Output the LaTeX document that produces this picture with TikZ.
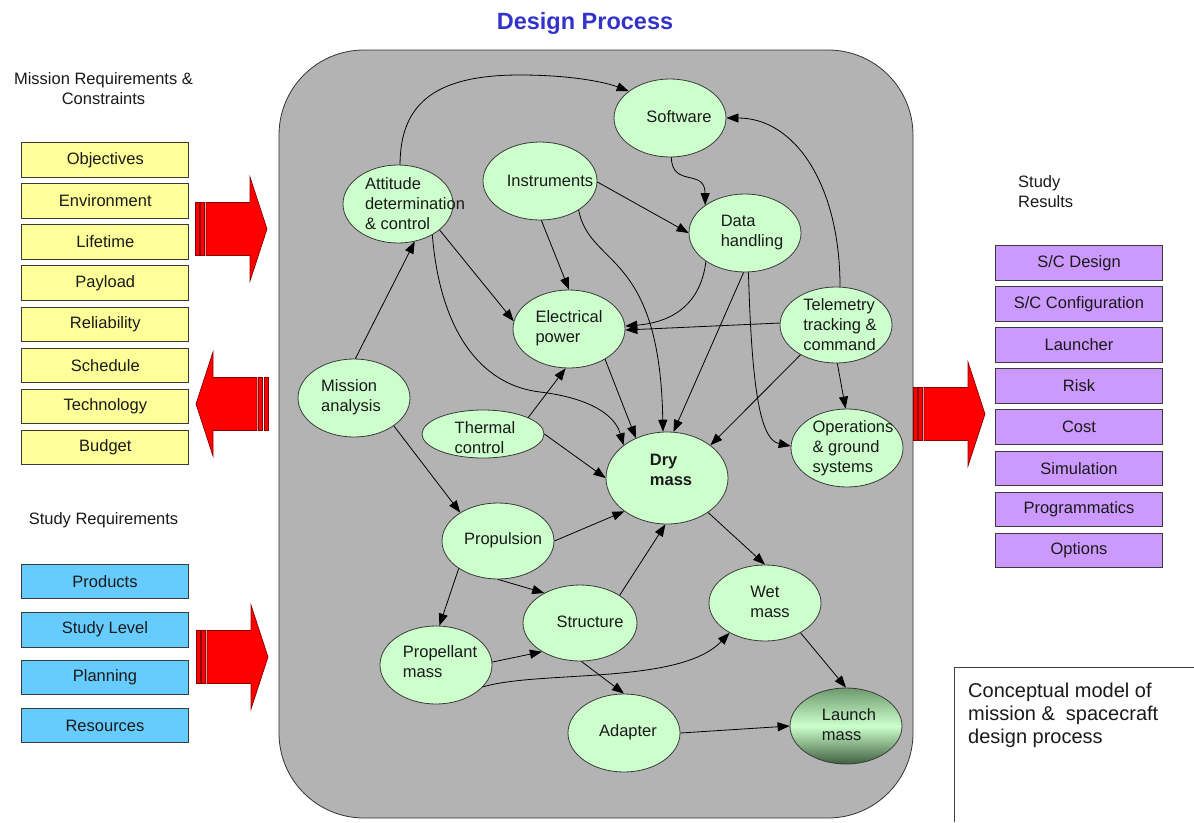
\documentclass[tikz,border=0pt]{standalone}
\usepackage{fontspec}
\setmainfont{Liberation Sans}
\usetikzlibrary{arrows.meta,shapes.geometric}
\definecolor{panelgray}{HTML}{B3B3B3}
\definecolor{nodegreen}{HTML}{CCFFCC}
\definecolor{boxyellow}{HTML}{FFFF99}
\definecolor{boxblue}{HTML}{66CCFF}
\definecolor{boxpurple}{HTML}{CC99FF}
\definecolor{titleblue}{HTML}{3333CC}
\definecolor{arrowred}{HTML}{FF0000}
\definecolor{arrowedge}{HTML}{8B0000}
\definecolor{edgegray}{HTML}{3A3A3A}
\definecolor{lmtop}{HTML}{6E9A6E}
\definecolor{lmbot}{HTML}{3F5F3F}
\definecolor{txt}{HTML}{1A1A1A}
\newcommand\stripedarrow[3]{%
  \begin{scope}[shift={(#1,#2)},xscale=#3]
    \filldraw[redarrow] (0,-26.5) rectangle (4,26.5);
    \filldraw[redarrow] (5.5,-26.5) rectangle (9.5,26.5);
    \filldraw[redarrow] (11,-26.5) -- (55,-26.5) -- (55,-52) -- (72,0) -- (55,52) -- (55,26.5) -- (11,26.5) -- cycle;
  \end{scope}}
\begin{document}
\begin{tikzpicture}[x=1pt,y=-1pt,
  ell/.style={ellipse,draw=edgegray,line width=0.8pt,fill=nodegreen,inner sep=0pt},
  lbl/.style={font=\fontsize{16.5}{20}\selectfont,align=left,text=txt,inner sep=0pt},
  head/.style={font=\fontsize{16.5}{20}\selectfont,text=txt,inner sep=0pt},
  reqbox/.style={rectangle,draw=edgegray,line width=0.8pt,minimum width=167pt,minimum height=34.5pt,inner sep=0pt,font=\fontsize{16.5}{20}\selectfont,text=txt},
  ybox/.style={reqbox,fill=boxyellow},
  bbox/.style={reqbox,fill=boxblue},
  pbox/.style={reqbox,fill=boxpurple},
  redarrow/.style={fill=arrowred,draw=arrowedge,line width=0.7pt},
  conn/.style={draw=black,line width=0.8pt,-{Triangle[length=12pt,width=9pt]}},
]
\useasboundingbox (0,0) rectangle (1194,822);
\fill[white] (0,0) rectangle (1194,822);

% title
\node[font=\bfseries\fontsize{23.5}{28}\selectfont,text=titleblue,inner sep=0pt] (title) at (585,23.5) {Design Process};

% central panel
\draw[draw=black!80,line width=0.8pt,fill=panelgray,rounded corners=85pt] (279,50) rectangle (913,818);

% headings
\node[head,align=center] (hmr) at (103.5,89) {Mission Requirements \&\\Constraints};
\node[head] (hsr) at (103.5,520) {Study Requirements};
\node[head,align=left,anchor=west] (hres) at (1018,192) {Study\\Results};

% yellow boxes
\node[ybox] (y1) at (105.3,160) {Objectives};
\node[ybox] (y2) at (105.3,201) {Environment};
\node[ybox] (y3) at (105.3,242) {Lifetime};
\node[ybox] (y4) at (105.3,283) {Payload};
\node[ybox] (y5) at (105.3,324.5) {Reliability};
\node[ybox] (y6) at (105.3,365.5) {Schedule};
\node[ybox] (y7) at (105.3,406.5) {Technology};
\node[ybox] (y8) at (105.3,447.5) {Budget};

% blue boxes
\node[bbox] (b1) at (105,581.5) {Products};
\node[bbox] (b2) at (105,629.7) {Study Level};
\node[bbox] (b3) at (105,677.5) {Planning};
\node[bbox] (b4) at (105,725.5) {Resources};

% purple boxes
\node[pbox] (p1) at (1079,263) {S/C Design};
\node[pbox] (p2) at (1079,304) {S/C Configuration};
\node[pbox] (p3) at (1079,345) {Launcher};
\node[pbox] (p4) at (1079,386) {Risk};
\node[pbox] (p5) at (1079,427) {Cost};
\node[pbox] (p6) at (1079,468.3) {Simulation};
\node[pbox] (p7) at (1079,509.3) {Programmatics};
\node[pbox] (p8) at (1079,550.3) {Options};

% red striped arrows
\stripedarrow{195}{229}{1}
\stripedarrow{268}{404}{-1}
\stripedarrow{196}{657}{1}
\stripedarrow{913}{414}{1}

% conceptual model box
\draw[draw=black!75,line width=0.8pt] (954,822) -- (954,667) -- (1194,667);
\node[font=\fontsize{20}{23}\selectfont,align=left,anchor=north west,inner sep=0pt,text=txt] (concept) at (968,683) {Conceptual model of\\mission \& \ spacecraft\\design process};

% ellipses
\node[ell,minimum width=112pt,minimum height=78pt] (sw) at (670,118) {};
\node[ell,minimum width=114pt,minimum height=78pt] (ins) at (540,181) {};
\node[ell,minimum width=110pt,minimum height=78pt] (att) at (398,204) {};
\node[ell,minimum width=112pt,minimum height=78pt] (dh) at (745,233) {};
\node[ell,minimum width=112pt,minimum height=78pt] (ep) at (569,329) {};
\node[ell,minimum width=112pt,minimum height=76pt] (tt) at (836,325) {};
\node[ell,minimum width=112pt,minimum height=78pt] (ma) at (354,398) {};
\node[ell,minimum width=122pt,minimum height=48pt] (th) at (483,434) {};
\node[ell,minimum width=122pt,minimum height=92pt] (dry) at (667,478) {};
\node[ell,minimum width=112pt,minimum height=78pt] (ops) at (847,448) {};
\node[ell,minimum width=112pt,minimum height=76pt] (prop) at (498,541) {};
\node[ell,minimum width=112pt,minimum height=76pt] (wet) at (765,603) {};
\node[ell,minimum width=114pt,minimum height=76pt] (str) at (580,623) {};
\node[ell,minimum width=112pt,minimum height=78pt] (pm) at (436,665) {};
\node[ell,minimum width=112pt,minimum height=78pt] (ad) at (624,733) {};
\node[ell,minimum width=112pt,minimum height=76pt,top color=lmtop,bottom color=lmbot,middle color=nodegreen] (lm) at (846,726) {};

% labels
\node[lbl] (lsw) at (679,117) {Software};
\node[lbl] (lins) at (550,181) {Instruments};
\node[lbl] (latt) at (415,204) {Attitude\\determination\\\& control};
\node[lbl] (ldh) at (752,233) {Data\\handling};
\node[lbl] (lep) at (569,328) {Electrical\\power};
\node[lbl] (ltt) at (840,325) {Telemetry\\tracking \&\\command};
\node[lbl] (lma) at (351,397) {Mission\\analysis};
\node[lbl] (lth) at (485,438) {Thermal\\control};
\node[lbl,font=\bfseries\fontsize{16.5}{20}\selectfont] (ldry) at (671,470) {Dry\\mass};
\node[lbl] (lops) at (853,448) {Operations\\\& ground\\systems};
\node[lbl] (lprop) at (503,540) {Propulsion};
\node[lbl] (lwet) at (770,602) {Wet\\mass};
\node[lbl] (lstr) at (590,622) {Structure};
\node[lbl] (lpm) at (440,662) {Propellant\\mass};
\node[lbl] (lad) at (628,732) {Adapter};
\node[lbl] (llm) at (849,725) {Launch\\mass};

% connectors
\draw[conn] (att.87) .. controls (400,100) and (440,75) .. (520,75) .. controls (570,75) and (605,82) .. (sw.147);
\draw[conn] (sw.-88) .. controls (672,188) and (705,168) .. (dh.145);
\draw[conn] (tt.84) .. controls (840,185) and (795,118) .. (sw.0);
\draw[conn] (ins.-1) -- (dh.180);
\draw[conn] (ins.-88) -- (ep.90);
\draw[conn] (ins.-37) .. controls (590,268) and (660,250) .. (dry.95);
\draw[conn] (dh.-144) .. controls (700,310) and (665,323) .. (ep.3);
\draw[conn] (tt.178) -- (ep.-1);
\draw[conn] (att.-32) -- (ep.172);
\draw[conn] (att.-42) .. controls (440,330) and (480,385) .. (540,392) .. controls (590,398) and (615,415) .. (dry.143);
\draw[conn] (ep.-40) -- (dry.128);
\draw[conn] (dh.-92) -- (dry.82);
\draw[conn] (dh.-85) .. controls (752,400) and (762,440) .. (ops.178);
\draw[conn] (tt.-140) -- (dry.37);
\draw[conn] (tt.-88) -- (ops.92);
\draw[conn] (ma.88) -- (att.-66);
\draw[conn] (th.20) -- (ep.-95);
\draw[conn] (th.0) -- (dry.180);
\draw[conn] (ma.-35) -- (prop.143);
\draw[conn] (prop.0) -- (dry.-142);
\draw[conn] (str.35) -- (dry.-92);
\draw[conn] (dry.-40) -- (wet.90);
\draw[conn] (prop.-90) -- (str.140);
\draw[conn] (prop.-145) -- (pm.85);
\draw[conn] (pm.3) -- (str.-143);
\draw[conn] (pm.-25) .. controls (540,670) and (680,685) .. (wet.-140);
\draw[conn] (str.-88) -- (ad.90);
\draw[conn] (ad.0) -- (lm.180);
\draw[conn] (wet.-40) -- (lm.90);
\end{tikzpicture}
\end{document}
